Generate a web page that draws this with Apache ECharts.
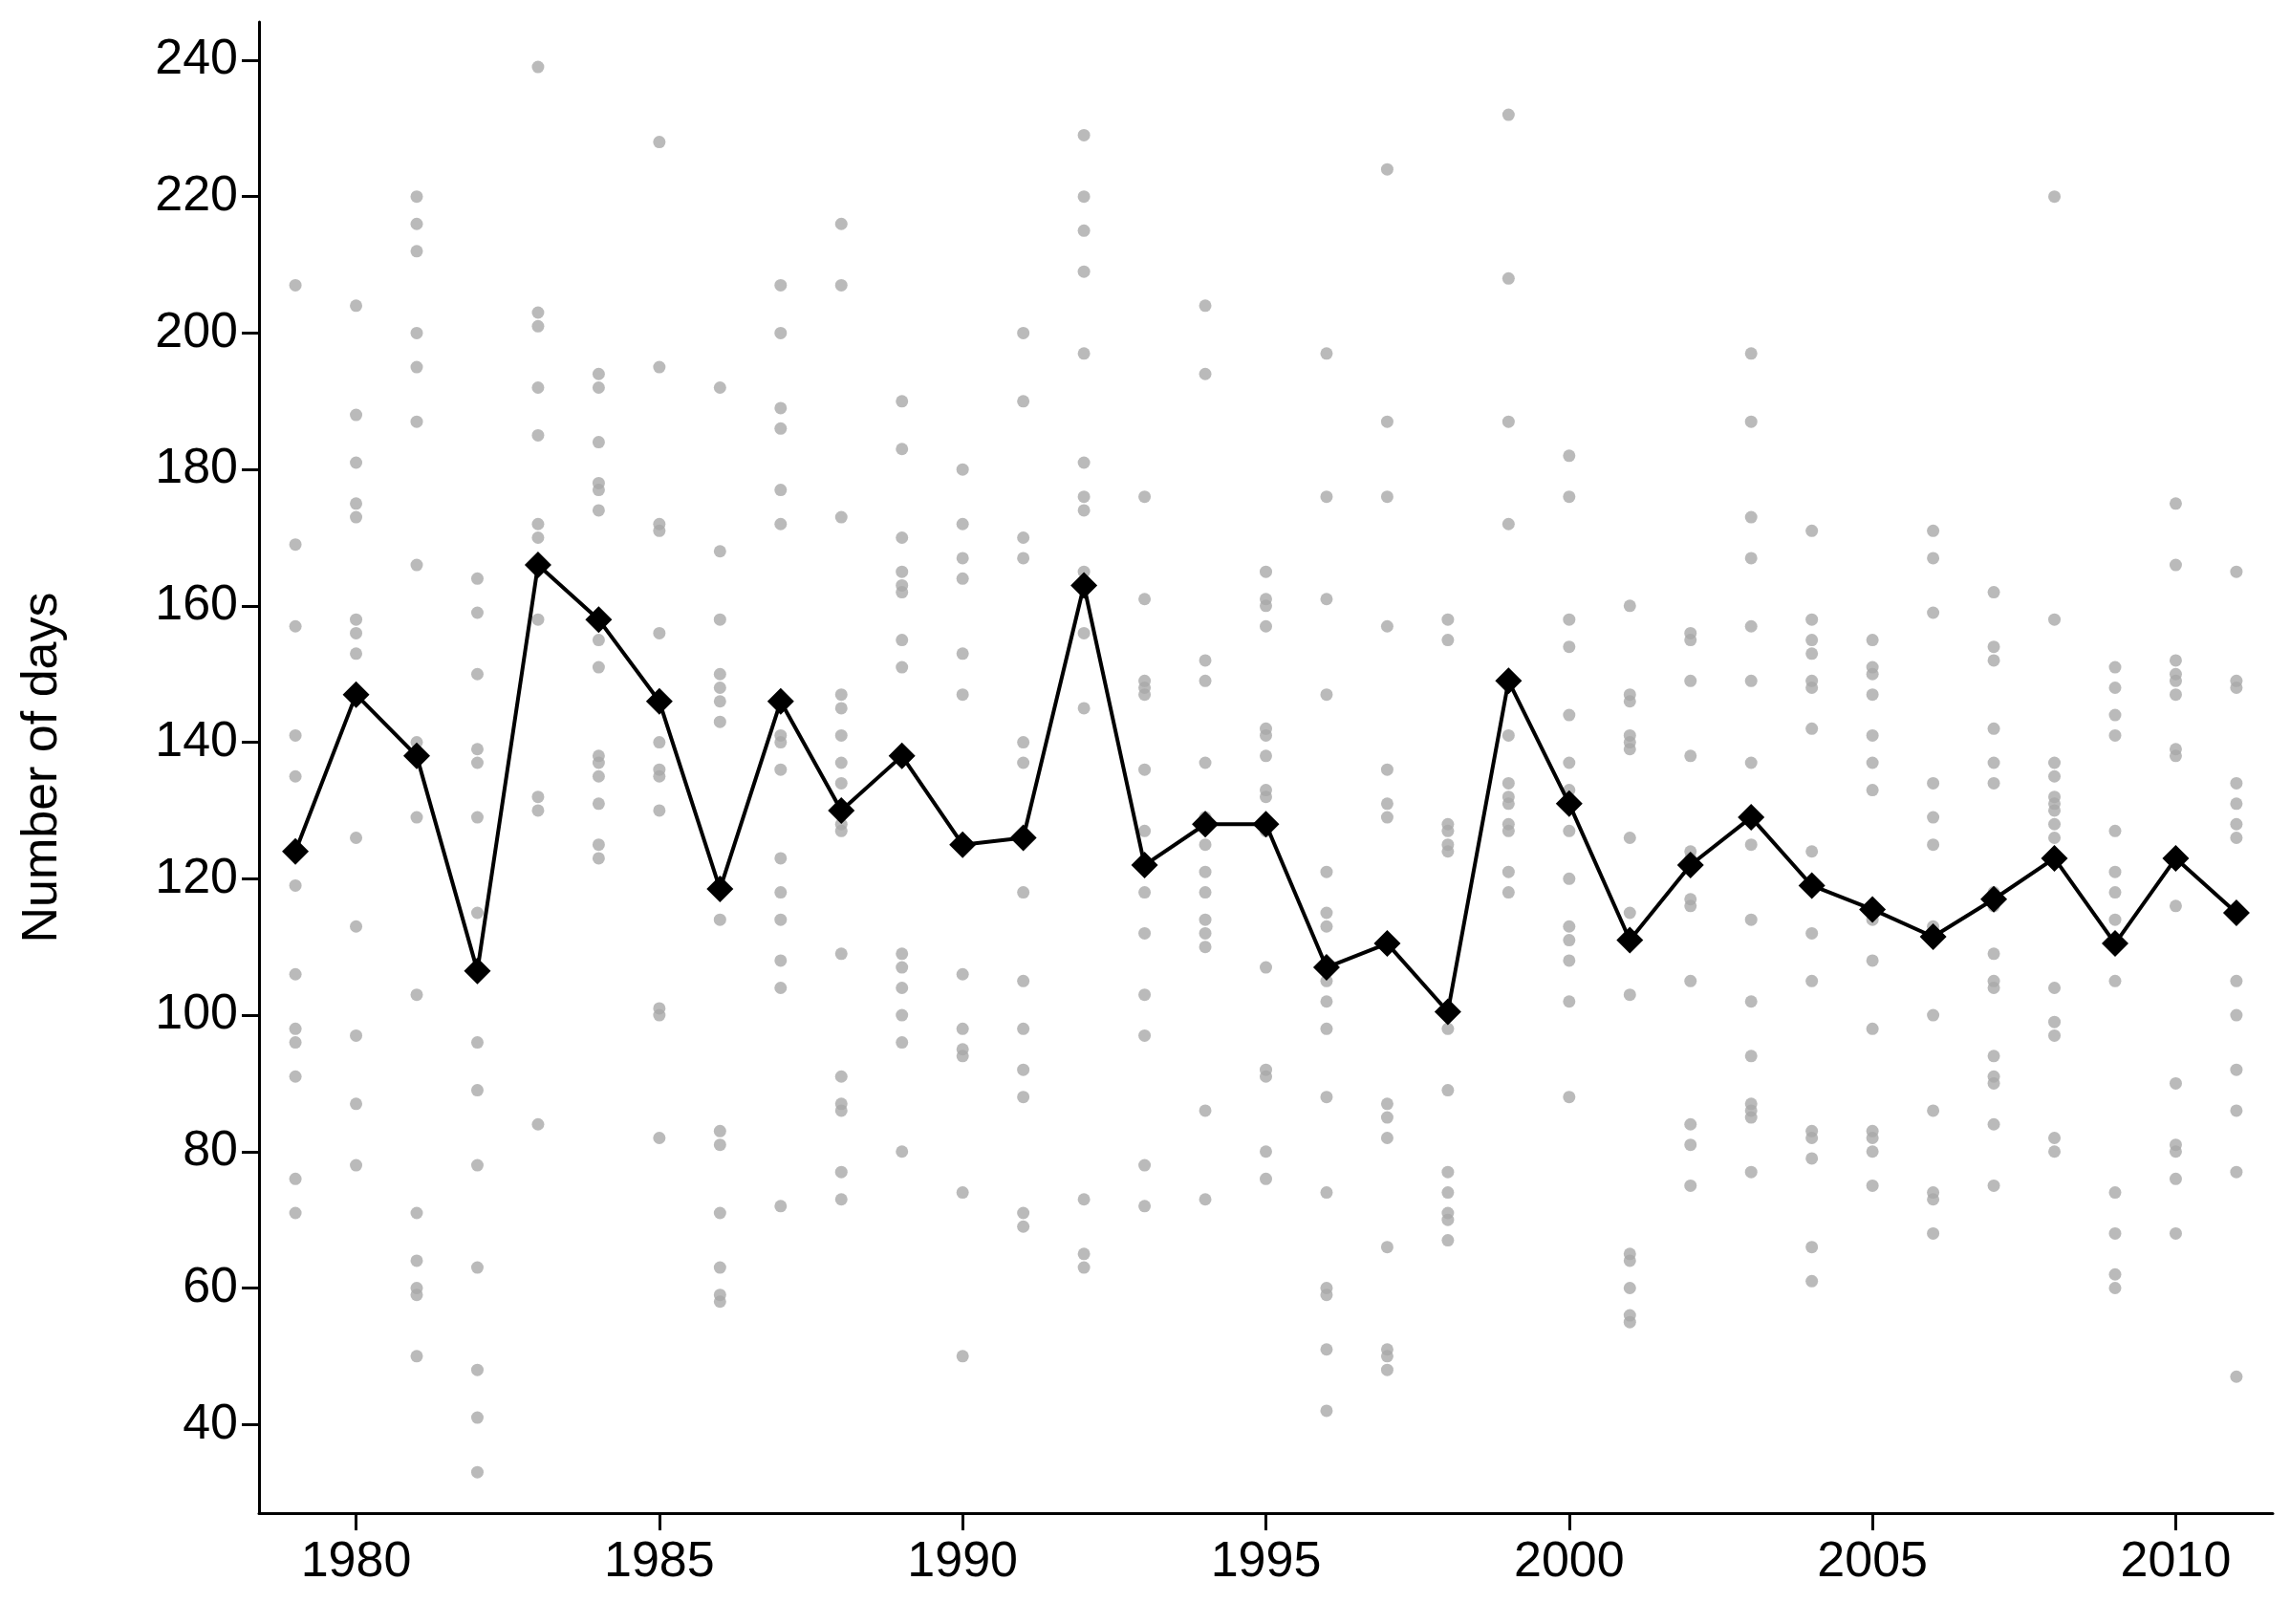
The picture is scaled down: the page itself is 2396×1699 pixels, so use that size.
<!DOCTYPE html>
<html><head><meta charset="utf-8">
<script src="https://cdn.jsdelivr.net/npm/echarts@6/dist/echarts.min.js"></script>
<style>html,body{margin:0;background:#fff}#c{width:2396px;height:1699px}</style>
</head><body><div id="c"></div>
<script>
const years = [1979,1980,1981,1982,1983,1984,1985,1986,1987,1988,1989,1990,1991,1992,1993,1994,1995,1996,1997,1998,1999,2000,2001,2002,2003,2004,2005,2006,2007,2008,2009,2010,2011]
const means = [124,147,138,106.5,166,158,146,118.5,146,130,138,125,126,163,122,128,128,107,110.5,100.5,149,131,111,122,129,119,115.5,111.5,117,123,110.5,123,115]
const dots = [
  [207,169,157,141,135,119,106,98,96,91,76,71],
  [204,188,181,175,173,158,156,153,126,113,97,87,78],
  [220,216,212,200,195,187,166,140,129,103,71,64,60,59,50],
  [164,159,150,139,137,129,115,96,89,78,63,48,41,33],
  [239,203,201,192,185,172,170,158,132,130,84],
  [194,192,184,178,177,174,155,151,138,137,135,131,125,123],
  [228,195,172,171,156,140,136,135,130,101,100,82],
  [192,168,158,150,148,146,143,114,83,81,71,63,59,58],
  [207,200,189,186,177,172,141,140,136,123,118,114,108,104,72],
  [216,207,173,147,145,141,137,134,128,127,109,91,87,86,77,73],
  [190,183,170,165,163,162,155,151,109,107,104,100,96,80],
  [180,172,167,164,153,147,125,106,98,95,94,74,50],
  [200,190,170,167,140,137,118,105,98,92,88,71,69],
  [229,220,215,209,197,181,176,174,165,156,145,73,65,63],
  [176,161,149,148,147,136,127,118,112,103,97,78,72],
  [204,194,152,149,137,129,125,121,118,114,112,110,86,73],
  [165,161,160,157,142,141,138,133,132,127,107,92,91,80,76],
  [197,176,161,147,121,115,113,105,102,98,88,74,60,59,51,42],
  [224,187,176,157,136,131,129,87,85,82,66,51,50,48],
  [158,155,128,127,125,124,98,89,77,74,71,70,67],
  [232,208,187,172,141,134,132,131,128,127,121,118],
  [182,176,158,154,144,137,133,127,120,113,111,108,102,88],
  [160,147,146,141,140,139,126,115,103,65,64,60,56,55],
  [156,155,149,138,124,123,117,116,105,84,81,75],
  [197,187,173,167,157,149,137,125,114,102,94,87,86,85,77],
  [171,158,155,153,149,148,142,124,112,105,83,82,79,66,61],
  [155,151,150,147,141,137,133,114,108,98,83,82,80,75],
  [171,167,159,134,129,125,113,100,86,74,73,68],
  [162,154,152,142,137,134,118,116,109,105,104,94,91,90,84,75],
  [220,158,137,135,132,131,130,128,126,104,99,97,82,80],
  [151,148,144,141,127,121,118,114,105,74,68,62,60],
  [175,166,152,150,149,147,139,138,116,90,81,80,76,68],
  [165,149,148,134,131,128,126,105,100,92,86,77,47]
]
const xTicks = [1980,1985,1990,1995,2000,2005,2010]
const yTicks = [40,60,80,100,120,140,160,180,200,220,240]

const scatterData = []
dots.forEach(function (arr, i) {
    arr.forEach(function (v) { scatterData.push([years[i], v]) })
})
const lineData = years.map(function (y, i) { return [y, means[i]] })

const chart = echarts.init(document.getElementById('c'))
const axisCommon = {
    axisLine: {show: true, lineStyle: {color: '#000', width: 3}},
    axisTick: {show: true, length: 18, lineStyle: {color: '#000', width: 3}},
    axisLabel: {color: '#000', fontSize: 52, fontFamily: 'Liberation Sans', formatter: function (v) { return String(v) }},
    splitLine: {show: false}
}
chart.setOption({
    animation: false,
    grid: {left: 271, right: 18, top: 23, bottom: 116},
    xAxis: Object.assign({}, axisCommon, {
        type: 'value', min: 1978.4, max: 2011.6,
        axisTick: Object.assign({}, axisCommon.axisTick, {customValues: xTicks}),
        axisLabel: Object.assign({}, axisCommon.axisLabel, {customValues: xTicks, margin: 26})
    }),
    yAxis: Object.assign({}, axisCommon, {
        type: 'value', min: 27, max: 245.6,
        name: 'Number of days', nameLocation: 'middle', nameGap: 200,
        nameTextStyle: {color: '#000', fontSize: 52, fontFamily: 'Liberation Sans'},
        axisTick: Object.assign({}, axisCommon.axisTick, {customValues: yTicks}),
        axisLabel: Object.assign({}, axisCommon.axisLabel, {customValues: yTicks, margin: 22})
    }),
    series: [{
        type: 'scatter', data: scatterData, symbolSize: 13,
        itemStyle: {color: '#a9a9a9'}
    }, {
        type: 'line', data: lineData, symbol: 'diamond', symbolSize: 28,
        lineStyle: {color: '#000', width: 4},
        itemStyle: {color: '#000'}
    }]
})
</script></body></html>
